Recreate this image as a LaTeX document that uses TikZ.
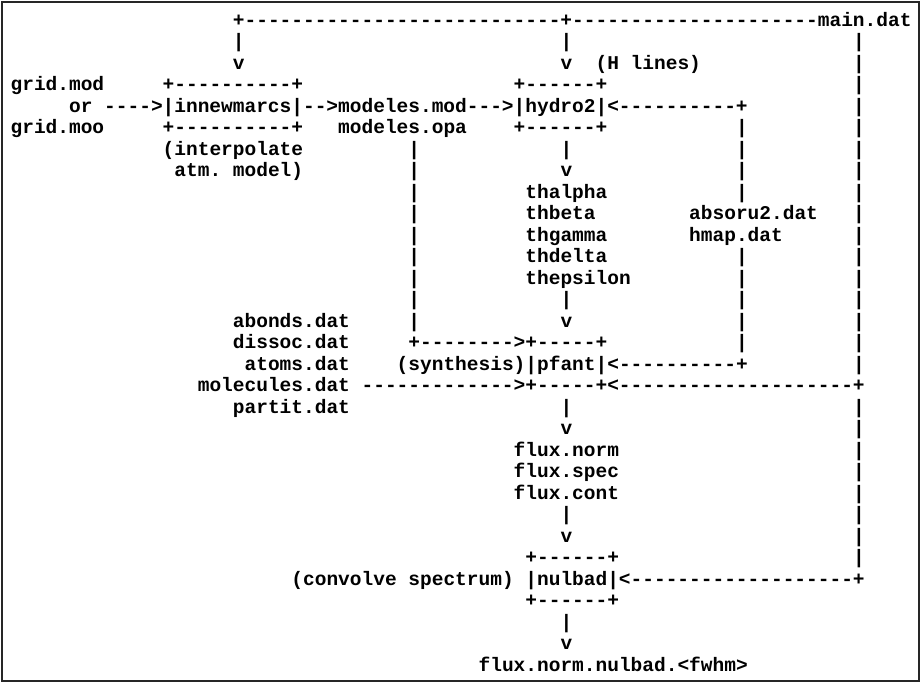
\documentclass[tikz,border=0pt]{standalone}
\usepackage{fontspec}
\setmonofont{Liberation Mono}
\newcommand\tx[3]{\node[asc] (t#1x#2) at ({10.6+11.7*#2},{-26-21.5*#1}) {#3};}
\begin{document}
\begin{tikzpicture}[x=1pt,y=1pt,
  asc/.style={anchor=base west,inner sep=0pt,outer sep=0pt,
    font=\ttfamily\bfseries\fontsize{19.5}{21}\selectfont}]
\useasboundingbox (0,0) rectangle (922,-683);
\fill[white] (0,0) rectangle (922,-683);
\draw[line width=2pt,black!85] (2,-1.5) rectangle (919,-681);
% row 0
\tx{0}{19}{+---------------------------+---------------------main.dat}
% row 1
\tx{1}{19}{|}\tx{1}{47}{|}\tx{1}{72}{|}
% row 2
\tx{2}{19}{v}\tx{2}{47}{v}\tx{2}{50}{(H lines)}\tx{2}{72}{|}
% row 3
\tx{3}{0}{grid.mod}\tx{3}{13}{+----------+}\tx{3}{43}{+------+}\tx{3}{72}{|}
% row 4
\tx{4}{5}{or ---->|innewmarcs|-->modeles.mod--->|hydro2|<----------+}\tx{4}{72}{|}
% row 5
\tx{5}{0}{grid.moo}\tx{5}{13}{+----------+}\tx{5}{28}{modeles.opa}\tx{5}{43}{+------+}\tx{5}{62}{|}\tx{5}{72}{|}
% row 6
\tx{6}{13}{(interpolate}\tx{6}{34}{|}\tx{6}{47}{|}\tx{6}{62}{|}\tx{6}{72}{|}
% row 7
\tx{7}{14}{atm. model)}\tx{7}{34}{|}\tx{7}{47}{v}\tx{7}{62}{|}\tx{7}{72}{|}
% rows 8-13
\tx{8}{34}{|}\tx{8}{44}{thalpha}\tx{8}{62}{|}\tx{8}{72}{|}
\tx{9}{34}{|}\tx{9}{44}{thbeta}\tx{9}{58}{absoru2.dat}\tx{9}{72}{|}
\tx{10}{34}{|}\tx{10}{44}{thgamma}\tx{10}{58}{hmap.dat}\tx{10}{72}{|}
\tx{11}{34}{|}\tx{11}{44}{thdelta}\tx{11}{62}{|}\tx{11}{72}{|}
\tx{12}{34}{|}\tx{12}{44}{thepsilon}\tx{12}{62}{|}\tx{12}{72}{|}
\tx{13}{34}{|}\tx{13}{47}{|}\tx{13}{62}{|}\tx{13}{72}{|}
% rows 14-18
\tx{14}{19}{abonds.dat}\tx{14}{34}{|}\tx{14}{47}{v}\tx{14}{62}{|}\tx{14}{72}{|}
\tx{15}{19}{dissoc.dat}\tx{15}{34}{+-------->+-----+}\tx{15}{62}{|}\tx{15}{72}{|}
\tx{16}{20}{atoms.dat}\tx{16}{33}{(synthesis)|pfant|<----------+}\tx{16}{72}{|}
\tx{17}{16}{molecules.dat ------------->+-----+<--------------------+}
\tx{18}{19}{partit.dat}\tx{18}{47}{|}\tx{18}{72}{|}
% rows 19-25
\tx{19}{47}{v}\tx{19}{72}{|}
\tx{20}{43}{flux.norm}\tx{20}{72}{|}
\tx{21}{43}{flux.spec}\tx{21}{72}{|}
\tx{22}{43}{flux.cont}\tx{22}{72}{|}
\tx{23}{47}{|}\tx{23}{72}{|}
\tx{24}{47}{v}\tx{24}{72}{|}
\tx{25}{44}{+------+}\tx{25}{72}{|}
% rows 26-30
\tx{26}{24}{(convolve spectrum) |nulbad|<-------------------+}
\tx{27}{44}{+------+}
\tx{28}{47}{|}
\tx{29}{47}{v}
\tx{30}{40}{flux.norm.nulbad.<fwhm>}
\end{tikzpicture}
\end{document}
